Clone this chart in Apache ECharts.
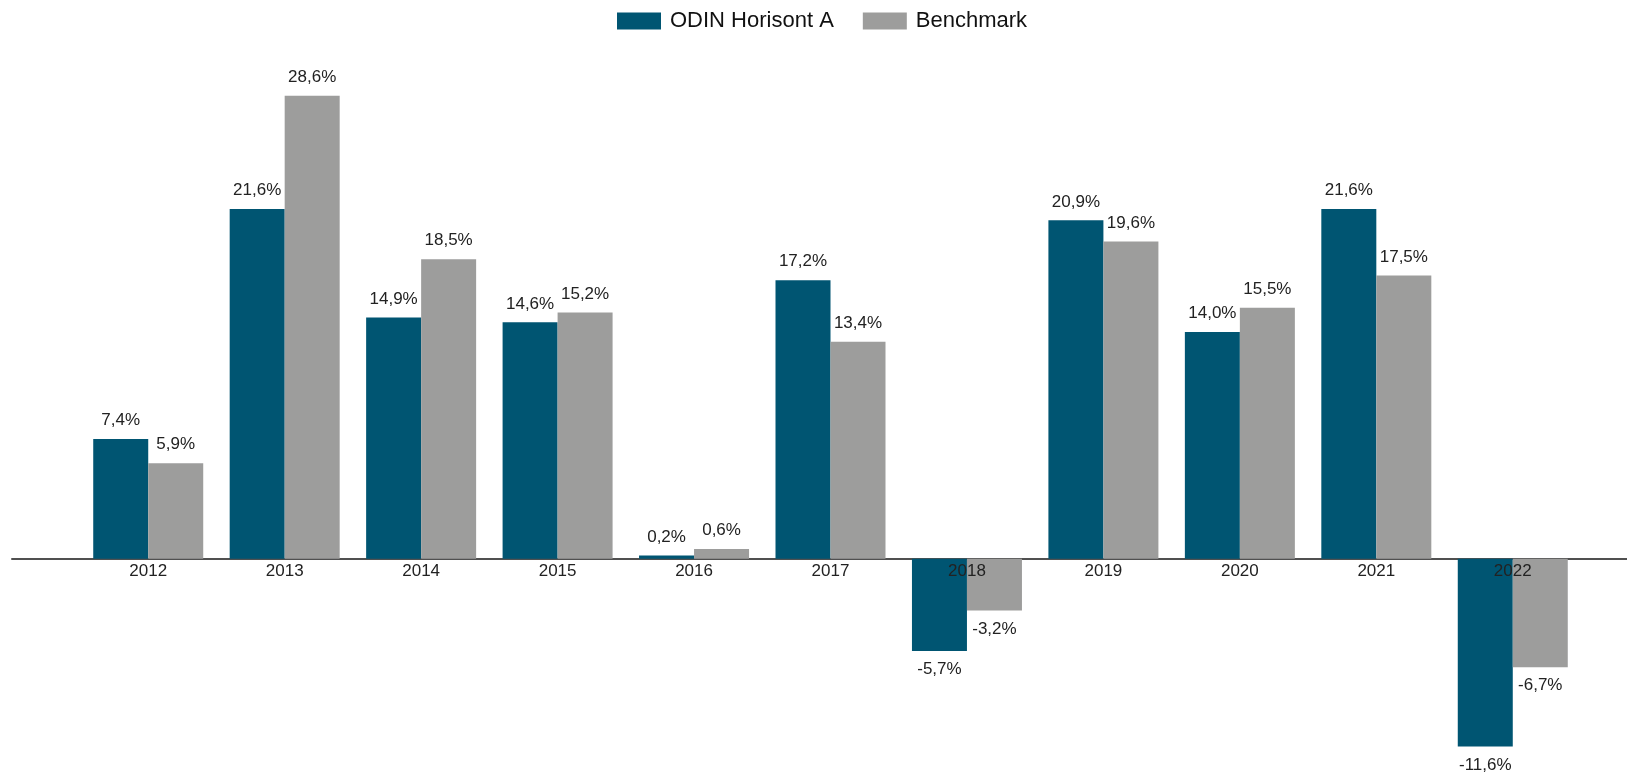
<!DOCTYPE html>
<html>
<head>
<meta charset="utf-8">
<script src="https://cdn.jsdelivr.net/npm/echarts@6/dist/echarts.min.js"></script>
<style>
  html, body { margin: 0; padding: 0; background: #fff; }
  #chart { width: 1627px; height: 775px; }
</style>
</head>
<body>
<div id="chart"></div>
<script>
const years = ["2012", "2013", "2014", "2015", "2016", "2017", "2018", "2019", "2020", "2021", "2022"];
const odinValues = [7.4, 21.6, 14.9, 14.6, 0.2, 17.2, -5.7, 20.9, 14.0, 21.6, -11.6];
const benchmarkValues = [5.9, 28.6, 18.5, 15.2, 0.6, 13.4, -3.2, 19.6, 15.5, 17.5, -6.7];
const seriesNames = ["ODIN Horisont A", "Benchmark"];
const colors = ["#005572", "#9d9d9c"];

const yMin = -12;
const yMax = 30;

function toData(values) {
  return values.map(function (v) {
    return { value: v, label: { position: v < 0 ? "bottom" : "top" } };
  });
}

function fmt(p) {
  return p.value.toFixed(1).replace(".", ",") + "%";
}

const chart = echarts.init(document.getElementById("chart"));
chart.setOption({
  animation: false,
  color: colors,
  textStyle: { fontFamily: "Liberation Sans, Arial, sans-serif" },
  legend: {
    data: seriesNames,
    top: 5,
    left: 612,
    itemWidth: 44,
    itemHeight: 17,
    itemGap: 29,
    icon: "rect",
    textStyle: { fontSize: 22, color: "#111", padding: [0, 0, 0, 4] },
  },
  grid: [
    { left: 80, right: 46, top: 73, bottom: 22 },
    { left: 12, right: 0, top: 73, bottom: 22 },
  ],
  xAxis: [
    {
      type: "category",
      gridIndex: 0,
      data: years,
      z: 10,
      axisLine: { show: true, onZero: false, lineStyle: { opacity: 0 } },
      axisTick: { show: false },
      axisLabel: { fontSize: 17, color: "#222", margin: 4 },
    },
    {
      type: "category",
      gridIndex: 1,
      data: years,
      axisLine: { show: true, onZero: true, lineStyle: { color: "#505050", width: 2 } },
      axisTick: { show: false },
      axisLabel: { show: false },
    },
  ],
  yAxis: [
    { type: "value", gridIndex: 0, min: yMin, max: yMax, show: false, splitLine: { show: false } },
    { type: "value", gridIndex: 1, min: yMin, max: yMax, show: false, splitLine: { show: false } },
  ],
  series: [
    {
      name: seriesNames[0],
      type: "bar",
      data: toData(odinValues),
      barWidth: 55,
      barGap: "0%",
      label: { show: true, fontSize: 17, color: "#222", distance: 10, formatter: fmt },
    },
    {
      name: seriesNames[1],
      type: "bar",
      data: toData(benchmarkValues),
      barWidth: 55,
      barGap: "0%",
      label: { show: true, fontSize: 17, color: "#222", distance: 10, formatter: fmt },
    },
  ],
});

// year labels sit under the zero line, not at the grid bottom
var zeroY = chart.convertToPixel({ yAxisIndex: 0 }, 0);
var bottomY = chart.convertToPixel({ yAxisIndex: 0 }, yMin);
chart.setOption({
  xAxis: [{ axisLabel: { margin: 4 - (bottomY - zeroY) } }, {}],
});
</script>
</body>
</html>
